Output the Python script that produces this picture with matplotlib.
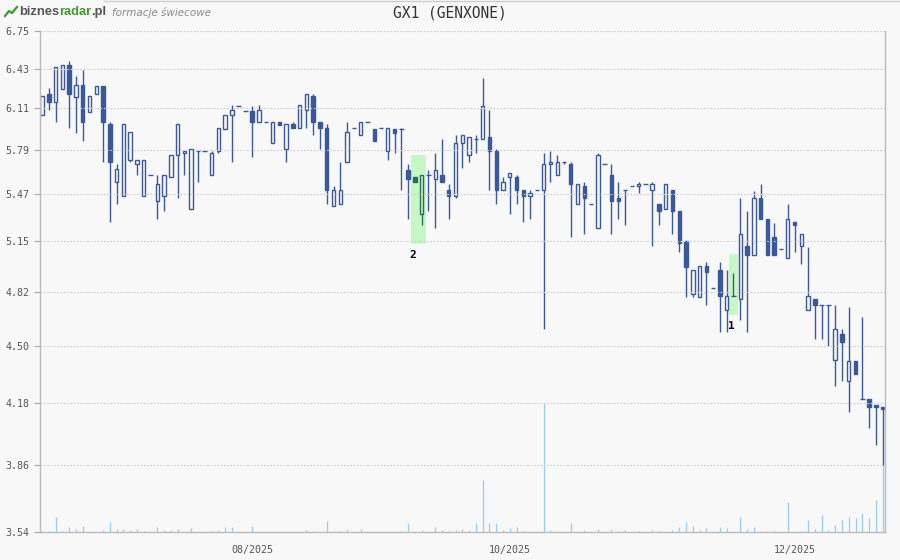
import numpy as np
import matplotlib.pyplot as plt
from matplotlib.patches import Rectangle
from matplotlib.lines import Line2D
from matplotlib.ticker import FixedLocator, NullLocator

# GX1 daily candles (only sessions with trades)
opens = [6.06, 6.22, 6.16, 6.26, 6.46, 6.20, 6.30, 6.08, 6.22, 6.29,
         5.99, 5.56, 5.46, 5.72, 5.69, 5.46, 5.61, 5.42, 5.46, 5.59,
         5.75, 5.77, 5.37, 5.78, 5.78, 5.61, 5.78, 5.95, 6.06, 6.13,
         6.09, 6.09, 6.00, 6.00, 5.84, 6.00, 5.80, 5.99, 5.96, 6.10,
         6.21, 6.00, 5.96, 5.39, 5.40, 5.70, 5.96, 5.90, 6.00, 5.95,
         5.96, 5.78, 5.95, 5.95, 5.64, 5.59, 5.33, 5.61, 5.58, 5.61,
         5.50, 5.46, 5.84, 5.75, 5.87, 5.87, 5.89, 5.78, 5.50, 5.59,
         5.59, 5.50, 5.46, 5.50, 5.50, 5.69, 5.61, 5.70, 5.69, 5.40,
         5.53, 5.40, 5.24, 5.69, 5.61, 5.44, 5.50, 5.53, 5.53, 5.54,
         5.50, 5.40, 5.37, 5.50, 5.35, 5.15, 4.81, 4.79, 4.99, 4.85,
         4.96, 4.71, 4.80, 4.78, 5.12, 5.06, 5.44, 5.30, 5.18, 5.10,
         5.04, 5.28, 5.12, 4.71, 4.78, 4.74, 4.74, 4.42, 4.57, 4.30,
         4.41, 4.20, 4.20, 4.17, 4.16]
highs = [6.21, 6.27, 6.44, 6.46, 6.49, 6.37, 6.42, 6.21, 6.29, 6.29,
         6.00, 5.69, 5.99, 5.93, 5.72, 5.72, 5.61, 5.61, 5.61, 5.75,
         5.99, 5.78, 5.80, 5.78, 5.78, 5.78, 5.96, 6.06, 6.14, 6.13,
         6.09, 6.13, 6.14, 6.00, 6.00, 6.00, 5.99, 6.00, 6.14, 6.22,
         6.22, 6.00, 5.99, 5.53, 5.70, 6.00, 5.96, 6.00, 6.00, 5.95,
         5.96, 5.96, 5.95, 5.96, 5.69, 5.59, 5.61, 5.64, 5.77, 5.87,
         5.54, 5.90, 5.90, 5.89, 5.90, 6.35, 6.10, 5.80, 5.59, 5.62,
         5.61, 5.50, 5.50, 5.50, 5.77, 5.78, 5.75, 5.70, 5.70, 5.54,
         5.56, 5.40, 5.77, 5.69, 5.69, 5.56, 5.50, 5.53, 5.56, 5.54,
         5.56, 5.40, 5.54, 5.50, 5.35, 5.15, 4.96, 4.99, 5.01, 4.85,
         5.01, 4.96, 4.94, 5.44, 5.35, 5.49, 5.54, 5.30, 5.27, 5.10,
         5.40, 5.28, 5.20, 5.11, 4.78, 4.74, 4.74, 4.74, 4.60, 4.73,
         4.41, 4.67, 4.20, 4.17, 4.16]
lows = [6.06, 6.10, 6.00, 6.26, 5.96, 5.92, 5.86, 6.08, 6.22, 5.70,
        5.28, 5.40, 5.46, 5.70, 5.61, 5.46, 5.61, 5.30, 5.35, 5.59,
        5.44, 5.61, 5.37, 5.56, 5.78, 5.61, 5.77, 5.95, 5.70, 6.13,
        6.09, 5.74, 6.00, 6.00, 5.84, 5.98, 5.70, 5.96, 5.96, 5.96,
        5.90, 5.80, 5.40, 5.39, 5.40, 5.70, 5.96, 5.90, 6.00, 5.86,
        5.96, 5.72, 5.77, 5.50, 5.30, 5.56, 5.26, 5.35, 5.24, 5.56,
        5.30, 5.44, 5.66, 5.70, 5.77, 5.87, 5.50, 5.40, 5.50, 5.33,
        5.40, 5.28, 5.30, 5.50, 4.60, 5.56, 5.61, 5.69, 5.18, 5.40,
        5.20, 5.40, 5.24, 5.69, 5.20, 5.30, 5.26, 5.53, 5.48, 5.54,
        5.12, 5.26, 5.37, 5.20, 5.08, 4.79, 4.79, 4.79, 4.74, 4.85,
        4.58, 4.58, 4.80, 4.65, 4.58, 5.06, 5.30, 5.06, 5.06, 5.10,
        5.04, 5.08, 5.00, 4.71, 4.54, 4.54, 4.50, 4.27, 4.30, 4.13,
        4.34, 4.20, 4.05, 3.96, 3.86]
closes = [6.21, 6.16, 6.44, 6.46, 6.22, 6.30, 6.00, 6.21, 6.29, 6.00,
          5.70, 5.65, 5.99, 5.93, 5.72, 5.72, 5.61, 5.54, 5.61, 5.75,
          5.99, 5.78, 5.80, 5.78, 5.78, 5.77, 5.96, 6.06, 6.10, 6.13,
          6.09, 6.00, 6.10, 6.00, 6.00, 5.98, 5.99, 5.96, 6.14, 6.22,
          6.00, 5.96, 5.50, 5.50, 5.50, 5.93, 5.96, 6.00, 6.00, 5.86,
          5.96, 5.96, 5.92, 5.95, 5.58, 5.56, 5.61, 5.61, 5.64, 5.56,
          5.46, 5.84, 5.90, 5.89, 5.87, 6.13, 5.78, 5.50, 5.56, 5.62,
          5.50, 5.46, 5.48, 5.50, 5.69, 5.70, 5.70, 5.70, 5.54, 5.54,
          5.44, 5.40, 5.75, 5.69, 5.42, 5.42, 5.50, 5.53, 5.54, 5.54,
          5.54, 5.35, 5.54, 5.35, 5.14, 4.98, 4.96, 4.99, 4.95, 4.85,
          4.80, 4.80, 4.80, 5.20, 5.06, 5.44, 5.30, 5.06, 5.06, 5.10,
          5.30, 5.26, 5.20, 4.80, 4.74, 4.74, 4.74, 4.60, 4.52, 4.41,
          4.34, 4.20, 4.16, 4.16, 4.15]
volumes = [130, 130, 1530, 130, 530, 330, 630, 0, 0, 230,
           1030, 330, 330, 230, 330, 130, 0, 530, 230, 230,
           330, 0, 430, 0, 0, 130, 230, 530, 530, 0,
           0, 630, 0, 0, 0, 0, 0, 0, 0, 230,
           130, 0, 1130, 130, 130, 330, 0, 330, 0, 0,
           0, 0, 0, 130, 930, 0, 230, 0, 530, 230,
           130, 230, 330, 230, 930, 5170, 930, 930, 230, 430,
           530, 130, 0, 0, 12930, 230, 0, 0, 930, 0,
           230, 0, 330, 0, 330, 130, 230, 0, 130, 0,
           230, 130, 0, 230, 530, 1030, 630, 230, 430, 0,
           530, 430, 0, 1530, 330, 530, 130, 130, 130, 0,
           3030, 0, 130, 1230, 330, 1730, 230, 730, 1230, 1530,
           1430, 1930, 1430, 3200, 6730]

yticks = [6.75, 6.43, 6.11, 5.79, 5.47, 5.15, 4.82, 4.50, 4.18, 3.86, 3.54]
month_pos = [31, 69, 111]
month_labels = ['08/2025', '10/2025', '12/2025']

# detected candle formations: (first candle, last candle, label)
patterns = [(55, 56, '2'), (102, 102, '1')]

bg = '#f8f8f8'
blue = '#3b5998'
teal = '#2b6b5b'
mono = 'DejaVu Sans Mono'

fig = plt.figure(figsize=(9, 5.6), dpi=100, facecolor=bg)
ax = fig.add_axes([40 / 900, 28 / 560, 845 / 900, 501 / 560])
ax2 = ax.twinx()

n = len(opens)
x = np.arange(n)

# volume in the background
ax2.vlines(x, 0, volumes, color='#99c9f7', lw=0.9)
ax2.set_ylim(0, max(volumes) * 3.875)
ax2.axis('off')
ax.set_zorder(ax2.get_zorder() + 1)
ax.patch.set_visible(False)

in_pattern = set()
for s, e, lbl in patterns:
    in_pattern.update(range(s, e + 1))
    top = max(highs[s:e + 1]) * 1.025
    bot = min(lows[s:e + 1]) / 1.025
    ax.add_patch(Rectangle((s - 0.6, bot), e - s + 1.2, top - bot,
                           facecolor='#c6f8c6', edgecolor='none', zorder=0.5))
    ax.annotate(lbl, xy=(s - 0.27, bot), xytext=(0, -11), textcoords='offset pixels',
                ha='center', va='center', fontsize=8, fontweight='bold',
                family=mono, color='black')

bw = 0.5
lw = 1.0
for i in range(n):
    o, h, l, c = opens[i], highs[i], lows[i], closes[i]
    col = teal if i in in_pattern else blue
    top, bot = max(o, c), min(o, c)
    if c > o:
        ax.vlines(i, top, h, color=col, lw=lw)
        ax.vlines(i, l, bot, color=col, lw=lw)
        ax.add_patch(Rectangle((i - bw / 2, bot), bw, top - bot,
                               facecolor='none', edgecolor=col, lw=lw, zorder=2))
    elif c < o:
        ax.vlines(i, l, h, color=col, lw=lw)
        ax.add_patch(Rectangle((i - bw / 2, bot), bw, top - bot,
                               facecolor=col, edgecolor=col, lw=lw, zorder=2))
    else:
        ax.vlines(i, l, h, color=col, lw=lw)
        ax.hlines(o, i - 0.33, i + 0.33, color=col, lw=lw)

ax.set_yscale('log')
ax.set_ylim(3.54, 6.75)
ax.set_xlim(-0.3, 124.35)
ax.yaxis.set_major_locator(FixedLocator(yticks))
ax.yaxis.set_minor_locator(NullLocator())
ax.set_yticklabels(['%.2f' % v for v in yticks])
ax.set_xticks(month_pos)
ax.set_xticklabels(month_labels)

ax.set_axisbelow(False)
ax.yaxis.grid(True, color='#cccccc', linestyle=(0, (1.5, 1.5)), lw=0.8)
ax.tick_params(axis='y', length=4.3, width=0.8, color='#aaaaaa', pad=3.5,
               labelsize=7.2, labelcolor='#555555')
ax.tick_params(axis='x', length=0, pad=9.5, labelsize=7.2, labelcolor='#555555')
for lab in ax.get_xticklabels() + ax.get_yticklabels():
    lab.set_family(mono)
for side in ['left', 'bottom', 'right']:
    ax.spines[side].set_color('#bbbbbb')
    ax.spines[side].set_linewidth(1.0)
ax.spines['top'].set_visible(False)

# header
fig.text(0.5, 1 - 13 / 560, 'GX1 (GENXONE)', ha='center', va='center',
         family=mono, fontsize=10.5, color='#333333')
fig.add_artist(Line2D([104 / 900, 1], [1 - 0.6 / 560, 1 - 0.6 / 560],
                      color='#cccccc', lw=1))
fig.add_artist(Line2D([5 / 900, 9 / 900, 12 / 900, 17 / 900],
                      [1 - 16 / 560, 1 - 11 / 560, 1 - 13 / 560, 1 - 7 / 560],
                      color='#3c9b2f', lw=1.6))
r = fig.canvas.get_renderer()
xp = 19
for s, col in [('biznes', '#555555'), ('radar', '#3c9b2f'), ('.pl', '#555555')]:
    t = fig.text(xp / 900, 1 - 12 / 560, s, color=col, weight='bold', fontsize=9.3,
                 va='center', ha='left', family='Liberation Sans')
    xp += t.get_window_extent(r).width
fig.text(112 / 900, 1 - 13 / 560, 'formacje świecowe', color='#8a8a8a',
         style='italic', fontsize=7.5, va='center', ha='left')

fig.savefig('out.png', dpi=100, facecolor=fig.get_facecolor())
